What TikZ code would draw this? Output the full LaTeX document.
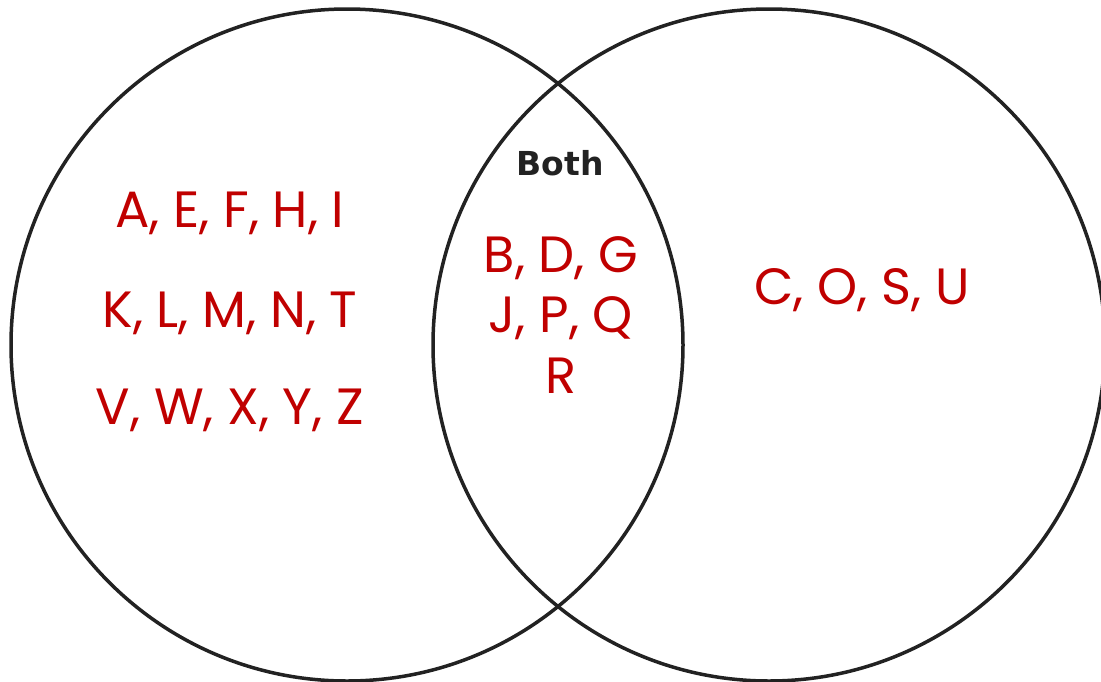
\documentclass[tikz,border=0pt]{standalone}
\usepackage{fontspec}
\setmainfont{Poppins}
\newfontfamily\bothfont{DejaVu Sans}
\definecolor{ink}{HTML}{222222}
\definecolor{letr}{HTML}{C00000}
\begin{document}
\begin{tikzpicture}[x=1pt,y=-1pt,
  ring/.style={draw=ink,line width=3.5pt},
  lett/.style={text=letr,font=\fontsize{51}{51}\selectfont},
  hdr/.style={text=ink,font=\bothfont\bfseries\fontsize{33}{33}\selectfont}]
\useasboundingbox (0,0) rectangle (1101,681);
\clip (0,0) rectangle (1101,681);
\draw[ring] (347,345) circle (336);
\draw[ring] (769,345) circle (336);
\node[hdr] (both) at (560,163) {Both};
\node[lett] (l1) at (230,213) {A, E, F, H, I};
\node[lett] (l2) at (230,313) {K, L, M, N, T};
\node[lett] (l3) at (230,410) {V, W, X, Y, Z};
\node[lett] (m1) at (561,258) {B, D, G};
\node[lett] (m2) at (561,318) {J, P, Q};
\node[lett] (m3) at (561,376) {R};
\node[lett] (r1) at (862,290) {C, O, S, U};
\end{tikzpicture}
\end{document}
